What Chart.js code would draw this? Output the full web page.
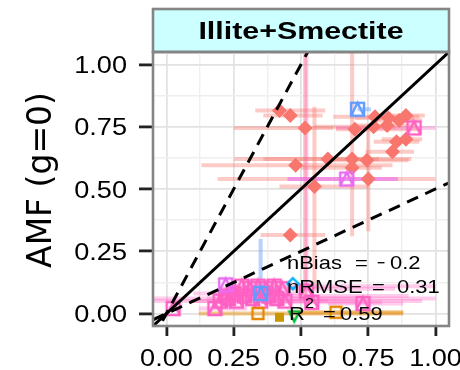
<!DOCTYPE html>
<html>
<head>
<meta charset="utf-8">
<script src="https://cdn.jsdelivr.net/npm/chart.js@4/dist/chart.umd.min.js"></script>
<style>
    html, body { margin: 0; padding: 0; background: #fff; }
    #wrap { width: 460px; height: 370px; }
</style>
</head>
<body>
<div id="wrap"><canvas id="graph" width="460" height="370"></canvas></div>
<script>
// Данные
const panelTitle = 'Illite+Smectite';
const yTitle = 'AMF (g=0)';
const gridValues = [0, 0.125, 0.25, 0.375, 0.5, 0.625, 0.75, 0.875, 1];
const tickValues = [0, 0.25, 0.5, 0.75, 1];
const tickLabels = ['0.00', '0.25', '0.50', '0.75', '1.00'];

// красные ромбы
const redX   = [0.42, 0.46, 0.515, 0.48, 0.55, 0.60, 0.69, 0.745, 0.69, 0.75, 0.70, 0.775, 0.77, 0.82, 0.825, 0.865, 0.89, 0.855, 0.89, 0.84, 0.46];
const redY   = [0.815, 0.795, 0.745, 0.595, 0.51, 0.62, 0.62, 0.615, 0.585, 0.54, 0.74, 0.79, 0.75, 0.755, 0.785, 0.775, 0.795, 0.69, 0.70, 0.65, 0.315];
const redXlo = [0.33, 0.36, 0.25, 0.13, 0.42, 0.25, 0.36, 0.60, 0.50, 0.19, 0.63, 0.62, 0.55, 0.70, 0.70, 0.78, 0.80, 0.77, 0.80, 0.74, 0.35];
const redXhi = [0.59, 0.58, 0.62, 0.84, 0.75, 0.91, 0.79, 0.90, 0.80, 1.00, 0.94, 0.94, 0.85, 0.93, 0.92, 0.95, 0.96, 0.94, 0.95, 0.92, 0.59];
const redYlo = [null, null, 0.05, null, 0.10, null, 0.31, null, null, 0.33, null, null, null, null, null, null, null, null, null, null, null];
const redYhi = [null, null, 1.05, null, 0.83, null, 1.05, null, null, 0.75, null, null, null, null, null, null, null, null, null, null, null];

// розовые квадраты
const pinkX   = [0.025, 0.18, 0.20, 0.23, 0.26, 0.29, 0.32, 0.35, 0.38, 0.41, 0.44, 0.28, 0.31, 0.34, 0.37, 0.40, 0.43, 0.54, 0.73, 0.92, 0.22, 0.25, 0.52];
const pinkY   = [0.02, 0.02, 0.05, 0.06, 0.05, 0.07, 0.06, 0.05, 0.07, 0.06, 0.05, 0.11, 0.10, 0.11, 0.10, 0.11, 0.10, 0.045, 0.04, 0.745, 0.07, 0.08, 0.09];
const pinkXlo = [null, 0.12, -0.05, null, 0.10, null, 0.15, null, 0.20, -0.05, null, null, 0.20, null, null, 0.25, null, 0.40, 0.60, 0.63, null, 0.10, null];
const pinkXhi = [null, 0.30, 0.95, null, 0.60, null, 0.70, null, 0.90, 1.00, null, null, 0.85, null, null, 1.00, null, 0.80, 0.88, 1.00, null, 0.50, null];
const pinkYlo = [null, null, null, null, null, null, null, null, null, null, null, null, null, null, null, null, null, null, null, null, null, null, 0.05];
const pinkYhi = [null, null, null, null, null, null, null, null, null, null, null, null, null, null, null, null, null, null, null, null, null, null, 1.05];

const violetX = [0.67, 0.22];
const violetY = [0.54, 0.115];
const violetXlo = [0.45, null];
const violetXhi = [0.86, null];

const blueX = [0.71, 0.35];
const blueY = [0.82, 0.08];
const blueXlo = [0.71, null];
const blueXhi = [0.76, null];
const blueYlo = [null, 0.05];
const blueYhi = [null, 0.30];

const orangeX = [0.34, 0.63];
const orangeY = [0.0, 0.005];
const orangeXlo = [0.12, 0.47];
const orangeXhi = [0.88, 0.88];

const goldX = [0.42];
const goldY = [-0.015];
const greenX = [0.475];
const greenY = [-0.012];
const cyanX = [0.47];
const cyanY = [0.12];

const refSlopes = [1, 2, 0.5];

// Значки точек
function makeSymbol(kind, color, size, lw) {
    const pad = Math.ceil(lw) + 1;
    const c = document.createElement('canvas');
    c.width = c.height = size + pad * 2;
    const g = c.getContext('2d');
    g.strokeStyle = color;
    g.fillStyle = color;
    g.lineWidth = lw;
    const a = pad, b = pad + size, m = pad + size / 2;
    if (kind === 'sqtri' || kind === 'square') {
        g.strokeRect(a, a, size, size);
        if (kind === 'sqtri') {
            g.beginPath();
            g.moveTo(a, b); g.lineTo(m, a); g.lineTo(b, b);
            g.stroke();
        }
    } else if (kind === 'fillsq') {
        g.fillRect(a, a, size, size);
    } else if (kind === 'tridown') {
        g.beginPath();
        g.moveTo(a, a); g.lineTo(b, a); g.lineTo(m, b); g.closePath();
        g.stroke();
    } else if (kind === 'diamond') {
        g.beginPath();
        g.moveTo(m, a); g.lineTo(b, m); g.lineTo(m, b); g.lineTo(a, m); g.closePath();
        g.stroke();
    }
    return c;
}

function toPoints(xs, ys) {
    return xs.map((v, i) => ({ x: v, y: ys[i] }));
}

const groups = [
    { x: redX, y: redY, xlo: redXlo, xhi: redXhi, ylo: redYlo, yhi: redYhi, bar: 'rgba(248,118,109,0.38)',
      style: 'rectRot', color: '#F8766D', radius: 7.5 },
    { x: pinkX, y: pinkY, xlo: pinkXlo, xhi: pinkXhi, ylo: pinkYlo, yhi: pinkYhi, bar: 'rgba(255,97,195,0.32)',
      style: makeSymbol('sqtri', '#FF61C3', 13, 2.4) },
    { x: violetX, y: violetY, xlo: violetXlo, xhi: violetXhi, bar: 'rgba(231,107,243,0.6)',
      style: makeSymbol('sqtri', '#E76BF3', 13, 2.4) },
    { x: blueX, y: blueY, xlo: blueXlo, xhi: blueXhi, ylo: blueYlo, yhi: blueYhi, bar: 'rgba(97,156,255,0.45)',
      style: makeSymbol('sqtri', '#619CFF', 13, 2.4) },
    { x: orangeX, y: orangeY, xlo: orangeXlo, xhi: orangeXhi, bar: 'rgba(229,135,0,0.45)',
      style: makeSymbol('square', '#E58700', 11, 2.4) },
    { x: goldX, y: goldY, style: makeSymbol('fillsq', '#C99800', 9, 2) },
    { x: greenX, y: greenY, style: makeSymbol('tridown', '#00BA38', 10, 2.4) },
    { x: cyanX, y: cyanY, style: makeSymbol('diamond', '#00B0F6', 11, 2.4) }
];

function isMajor(v) {
    return Math.abs(v * 4 - Math.round(v * 4)) < 1e-6;
}

// растянутый по горизонтали текст (шрифт в оригинале шире Arial)
function wideText(ctx, str, px, py, sx, align) {
    ctx.save();
    ctx.translate(px, py);
    ctx.scale(sx, 1);
    ctx.textAlign = align || 'left';
    ctx.fillText(str, 0, 0);
    ctx.restore();
}

// Плагин: полоска заголовка, усы, рамка и подписи
const decor = {
    id: 'decor',
    beforeDraw(chart) {
        const { ctx, chartArea: a } = chart;
        ctx.save();
        ctx.fillStyle = '#fff';
        ctx.fillRect(0, 0, chart.width, chart.height);
        ctx.fillStyle = '#CCFFFF';
        ctx.fillRect(a.left, 9, a.right - a.left, a.top - 9);
        ctx.strokeStyle = '#858585';
        ctx.lineWidth = 2.6;
        ctx.strokeRect(a.left, 9, a.right - a.left, a.top - 9);
        ctx.fillStyle = '#000';
        ctx.font = 'bold 24.5px "Liberation Sans"';
        ctx.textBaseline = 'alphabetic';
        wideText(ctx, panelTitle, (a.left + a.right) / 2, 38.5, 1.24, 'center');
        ctx.restore();
    },
    beforeDatasetsDraw(chart) {
        const { ctx, chartArea: a, scales: { x, y } } = chart;
        ctx.save();
        ctx.beginPath();
        ctx.rect(a.left, a.top, a.right - a.left, a.bottom - a.top);
        ctx.clip();
        ctx.lineWidth = 4;
        groups.forEach(gr => {
            if (!gr.bar) return;
            ctx.strokeStyle = gr.bar;
            gr.x.forEach((xv, i) => {
                const px = x.getPixelForValue(xv), py = y.getPixelForValue(gr.y[i]);
                if (gr.xlo && gr.xlo[i] != null) {
                    ctx.beginPath();
                    ctx.moveTo(x.getPixelForValue(gr.xlo[i]), py);
                    ctx.lineTo(x.getPixelForValue(gr.xhi[i]), py);
                    ctx.stroke();
                }
                if (gr.ylo && gr.ylo[i] != null) {
                    ctx.beginPath();
                    ctx.moveTo(px, y.getPixelForValue(gr.ylo[i]));
                    ctx.lineTo(px, y.getPixelForValue(gr.yhi[i]));
                    ctx.stroke();
                }
            });
        });
        ctx.restore();
    },
    afterDraw(chart) {
        const { ctx, chartArea: a, scales: { x, y } } = chart;
        ctx.save();
        ctx.fillStyle = '#000';
        ctx.textBaseline = 'alphabetic';

        // текст статистики
        const tx = 287;
        const b1 = 268.5, b2 = 292.5, b3 = 320;
        ctx.font = '18.6px "Liberation Sans"';
        wideText(ctx, 'nBias', tx, b1, 1.18);
        wideText(ctx, '=', tx + 68, b1, 1.18);
        wideText(ctx, '\u2212', tx + 90, b1, 0.75);
        wideText(ctx, '0.2', tx + 103, b1, 1.18);
        wideText(ctx, 'nRMSE', tx, b2, 1.18);
        wideText(ctx, '=', tx + 85, b2, 1.18);
        wideText(ctx, '0.31', tx + 110, b2, 1.18);
        wideText(ctx, 'R', tx + 2, b3, 1.18);
        wideText(ctx, '=', tx + 36, b3, 1.18);
        wideText(ctx, '0.59', tx + 53, b3, 1.18);
        ctx.font = '14px "Liberation Sans"';
        wideText(ctx, '2', tx + 18, b3 - 12, 1.15);

        // подписи делений
        ctx.font = '23.8px "Liberation Sans"';
        tickValues.forEach((v, i) => {
            wideText(ctx, tickLabels[i], x.getPixelForValue(v), 365.5, 1.14, 'center');
            wideText(ctx, tickLabels[i], 127, y.getPixelForValue(v) + 8.5, 1.14, 'right');
        });

        // рамка панели
        ctx.strokeStyle = '#858585';
        ctx.lineWidth = 2.6;
        ctx.strokeRect(a.left, a.top, a.right - a.left, a.bottom - a.top);

        // подпись оси Y
        ctx.translate(42, 180);
        ctx.rotate(-Math.PI / 2);
        ctx.font = '33px "DejaVu Sans"';
        ctx.textAlign = 'center';
        ctx.textBaseline = 'middle';
        ctx.fillText(yTitle, 0, 0);
        ctx.restore();
    }
};

var datasets = [];
refSlopes.forEach((s) => {
    datasets.push({
        type: 'line',
        data: [{ x: -0.05, y: -0.05 * s }, { x: 1.05, y: 1.05 * s }],
        borderColor: '#000',
        borderWidth: 3,
        borderDash: s === 1 ? [] : [12, 8],
        pointRadius: 0,
        showLine: true,
        order: 0
    });
});
groups.forEach((gr, i) => {
    datasets.push({
        data: toPoints(gr.x, gr.y),
        pointStyle: gr.style,
        pointRadius: gr.radius || 6,
        backgroundColor: gr.color || '#000',
        borderColor: gr.color || '#000',
        borderWidth: 0,
        order: 10 - i
    });
});

function axis(tickLen) {
    return {
        type: 'linear',
        min: -0.05,
        max: 1.05,
        afterBuildTicks: scale => { scale.ticks = gridValues.map(v => ({ value: v })); },
        border: { display: false },
        grid: {
            color: c => (isMajor(c.tick.value) ? '#E2E2E2' : '#EFEFEF'),
            lineWidth: c => (isMajor(c.tick.value) ? 1.8 : 1.4),
            tickColor: c => (isMajor(c.tick.value) ? '#222' : 'rgba(0,0,0,0)'),
            tickWidth: 2.8,
            tickLength: tickLen
        },
        ticks: { display: false, autoSkip: false }
    };
}

var xAxis = axis(10);
xAxis.afterFit = scale => { scale.height = 44; };
var yAxis = axis(14);
yAxis.afterFit = scale => { scale.width = 153; };

new Chart(document.getElementById('graph').getContext('2d'), {
    type: 'scatter',
    data: { datasets: datasets },
    options: {
        responsive: false,
        animation: false,
        devicePixelRatio: 1,
        events: [],
        layout: { padding: { top: 52, right: 11, left: 0, bottom: 0 } },
        plugins: { legend: { display: false }, tooltip: { enabled: false } },
        scales: { x: xAxis, y: yAxis }
    },
    plugins: [decor]
});
</script>
</body>
</html>
